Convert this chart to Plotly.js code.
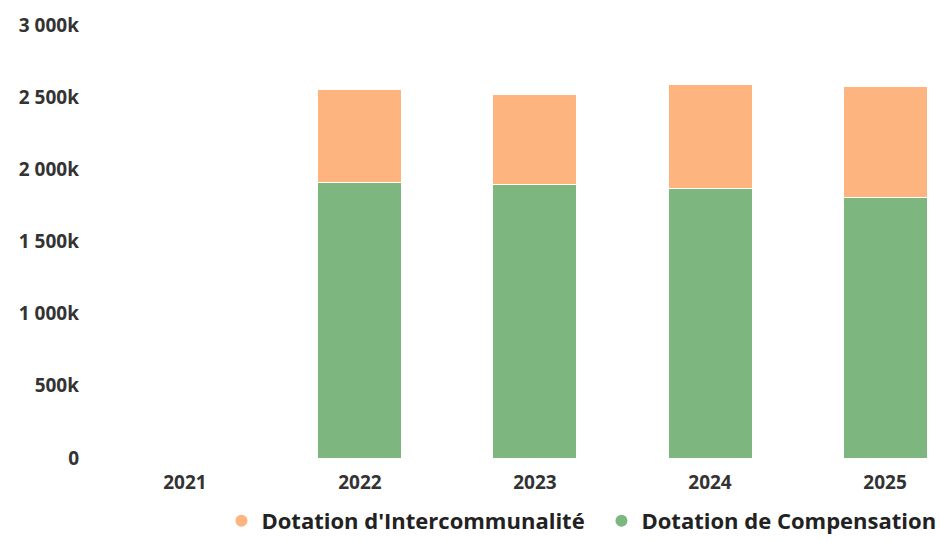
<!DOCTYPE html>
<html>
<head>
<meta charset="utf-8">
<script src="https://cdn.plot.ly/plotly-3.0.1.min.js"></script>
<style>html,body{margin:0;padding:0;background:#fff;}#chart{width:940px;height:542px;}</style>
</head>
<body>
<div id="chart"></div>
<script>
const years = ["2021", "2022", "2023", "2024", "2025"];
const compensation = [null, 1906000, 1892000, 1864000, 1802000];
const intercommunalite = [null, 644000, 624000, 721000, 769000];
const yTickVals = [0, 500000, 1000000, 1500000, 2000000, 2500000, 3000000];
const yTickText = ["0", "500k", "1 000k", "1 500k", "2 000k", "2 500k", "3 000k"];
const seriesNames = ["Dotation d'Intercommunalité", "Dotation de Compensation"];
const colors = ["#fdb47f", "#7db67f"];

const FONT = "Open Sans, sans-serif";
const traces = [
  {type: "bar", x: years, y: compensation, name: seriesNames[1], marker: {color: colors[1], line: {color: "#ffffff", width: 1}}, showlegend: false, hoverinfo: "y"},
  {type: "bar", x: years, y: intercommunalite, name: seriesNames[0], marker: {color: colors[0], line: {color: "#ffffff", width: 1}}, showlegend: false, hoverinfo: "y"},
  {type: "scatter", mode: "markers", x: [null], y: [null], name: seriesNames[0], marker: {color: colors[0], size: 15, symbol: "circle"}},
  {type: "scatter", mode: "markers", x: [null], y: [null], name: seriesNames[1], marker: {color: colors[1], size: 15, symbol: "circle"}}
];
const layout = {
  width: 940, height: 542,
  margin: {l: 95, r: 10, t: 25, b: 84, autoexpand: false},
  paper_bgcolor: "#ffffff", plot_bgcolor: "#ffffff",
  barmode: "stack", bargap: 0.52,
  font: {family: FONT, color: "#333333"},
  xaxis: {type: "category", categoryorder: "array", categoryarray: years, range: [-0.514, 4.257],
    showgrid: false, zeroline: false, showline: false, ticks: "", ticklabelstandoff: 11,
    tickfont: {family: FONT, size: 19, color: "#333333", weight: "bold"}},
  yaxis: {range: [0, 3000000], tickvals: yTickVals, ticktext: yTickText, showgrid: false, zeroline: false, showline: false, ticks: "",
    ticklabelstandoff: 15, tickfont: {family: FONT, size: 19, color: "#333333", weight: "bold"}},
  showlegend: true,
  legend: {orientation: "h", xref: "container", yref: "container", x: 0.2356, xanchor: "left", y: 0.0, yanchor: "bottom",
    traceorder: "normal", entrywidth: 335, entrywidthmode: "pixels",
    font: {family: FONT, size: 22, color: "#222222", weight: "bold"}, itemsizing: "constant", itemwidth: 30}
};
Plotly.newPlot("chart", traces, layout, {displayModeBar: false, staticPlot: true});
</script>
</body>
</html>
